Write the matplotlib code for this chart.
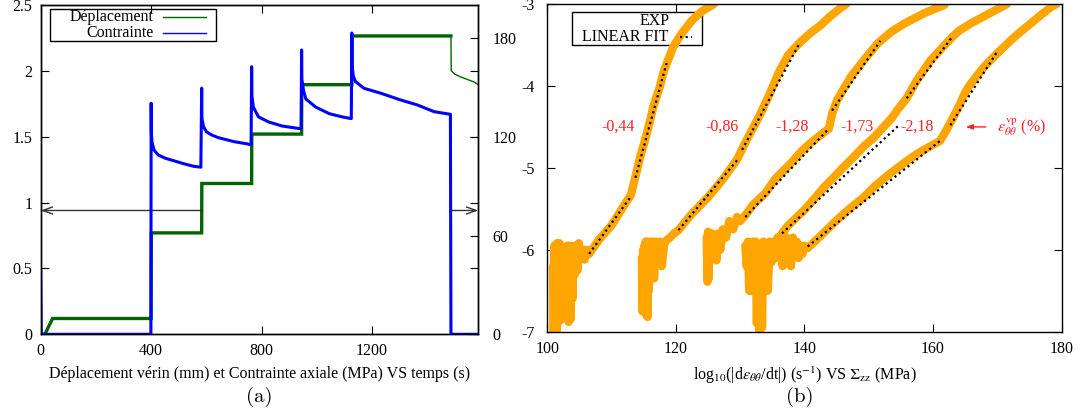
import matplotlib
matplotlib.use("Agg")
import matplotlib.pyplot as plt
from matplotlib.ticker import FuncFormatter
from matplotlib.lines import Line2D
from matplotlib.patches import Rectangle

plt.rcParams['font.family'] = ['Liberation Serif', 'DejaVu Serif']
plt.rcParams['mathtext.fontset'] = 'stix'
plt.rcParams['axes.unicode_minus'] = False
plt.rcParams['font.size'] = 11

# ---------------- panel (a) data ----------------
t_dep = [0, 15, 43, 400, 400.5, 583, 583.5, 764, 764.5, 945, 945.5, 1127, 1127.5, 1486]
dep = [0, 0, 0.12, 0.12, 0.77, 0.77, 1.145, 1.145, 1.52, 1.52, 1.895, 1.895, 2.265, 2.265]
# unloading part of the displacement (smooth, thin)
t_dep_unload = [1486, 1487, 1500, 1520, 1545, 1570, 1585]
dep_unload = [2.265, 2.0, 1.975, 1.955, 1.935, 1.915, 1.895]

t_sig = [0, 2, 399, 400, 400.8, 403, 410, 425, 450, 480, 520, 555, 580,
         583, 584, 590, 600, 620, 642, 700, 750, 762,
         764, 765, 770, 789, 825, 874, 935, 943,
         945, 946, 952, 960, 996, 1045, 1093, 1125,
         1127, 1128, 1132, 1140, 1171, 1232, 1304, 1364, 1425, 1484,
         1486, 1585]
sig = [38, 0, 0, 140.3, 122, 117, 112, 109, 107, 105.5, 103.5, 102, 101.5,
       149.5, 131, 126, 123, 121, 119.5, 117, 115.6, 115,
       162.5, 145, 138, 132, 129, 126.5, 125, 125,
       172.7, 155, 148, 143, 138, 134, 132, 131,
       183, 163, 157, 153.5, 149.4, 146.4, 142.3, 139.3, 135.2, 133.6,
       0, 0]

arrow_level = 0.94
arrow_left = (584, 0)
arrow_right = (1486, 1585)

a_xticks = [0, 400, 800, 1200]
a_yticks = [0, 0.5, 1, 1.5, 2, 2.5]
a_y2ticks = [0, 60, 120, 180]

# ---------------- panel (b) data ----------------
c1_x = [100.9, 101.0, 101.1, 101.2, 101.3, 101.4, 101.5, 101.6, 101.7, 101.8, 101.9, 102.0,
        102.1, 102.2, 102.3, 102.5, 102.7, 102.9, 103.1, 103.3, 103.45, 103.6, 103.75, 103.9,
        104.1, 104.3, 104.5, 104.7, 104.9, 105.2, 105.5, 105.8, 106.1,
        106.5, 108.0, 110.0, 112.0, 113.0, 113.7, 114.5,
        115.2, 116.0, 116.5, 117.5, 118.0, 118.6, 119.6, 120.9, 122.5, 124.0, 125.9]
c1_y = [-6.2, -7.0, -5.95, -6.95, -5.95, -7.0, -5.92, -6.9, -6.0, -6.3, -5.92, -6.85,
        -6.1, -6.85, -6.2, -6.5, -6.0, -6.3, -5.95, -6.88, -5.95, -6.85, -6.0, -6.6,
        -5.95, -6.3, -5.95, -6.25, -5.92, -6.1, -6.0, -6.12, -6.0,
        -6.05, -5.88, -5.7, -5.45, -5.33, -5.11, -4.85,
        -4.66, -4.42, -4.25, -4.01, -3.85, -3.72, -3.52, -3.36, -3.2, -3.09, -3.0]

c2_x = [114.7, 114.8, 114.9, 115.0, 115.1, 115.2, 115.3, 115.4, 115.5, 115.6, 115.7, 115.8,
        116.0, 116.2, 116.4, 116.6, 116.9, 117.2, 117.5, 117.8, 118.2, 118.6, 119.1, 119.7,
        120.4, 122.5, 125.1, 127.2, 129.5, 131.0, 132.9, 134.4, 136.1,
        137.5, 139.4, 141.0, 142.5, 144.0, 145.6, 146.5]
c2_y = [-6.1, -6.75, -6.0, -6.7, -5.95, -6.6, -5.9, -6.8, -5.9, -6.82, -5.95, -6.5,
        -5.9, -6.25, -5.9, -6.35, -5.9, -6.15, -5.9, -6.2, -5.92, -5.88, -5.85, -5.8,
        -5.76, -5.56, -5.35, -5.15, -4.9, -4.66, -4.38, -4.13, -3.82,
        -3.62, -3.46, -3.35, -3.26, -3.15, -3.05, -3.0]

c3_x = [124.8, 124.9, 125.0, 125.1, 125.2, 125.4, 125.6, 125.8, 126.0, 126.3, 126.6, 126.9,
        127.3, 127.8, 128.3, 128.9, 129.5, 130.0,
        130.8, 132.0, 133.9, 135.5, 137.8, 139.5, 140.9, 142.5, 143.8, 144.3, 145.1,
        147.2, 149.3, 151.4, 153.5, 155.5, 158.7, 161.8]
c3_y = [-5.85, -6.39, -5.78, -6.35, -5.8, -6.0, -5.8, -6.05, -5.85, -6.13, -5.8, -6.0,
        -5.75, -5.85, -5.65, -5.75, -5.6, -5.65,
        -5.58, -5.45, -5.31, -5.13, -4.95, -4.8, -4.7, -4.6, -4.52, -4.34, -4.17,
        -3.89, -3.68, -3.48, -3.34, -3.24, -3.11, -3.01]

c4_x = [130.8, 131.0, 131.2, 131.4, 131.6, 131.8, 132.0, 132.2, 132.4, 132.6, 132.8, 133.0,
        133.2, 133.4, 133.6, 133.8, 134.0, 134.3, 134.6, 134.9, 135.2, 135.5, 135.8, 136.1,
        136.5, 137.5, 139.9, 141.5, 143.0, 144.5, 146.1, 147.5, 149.2, 150.8,
        152.3, 153.5, 154.4, 155.9, 157.5, 159.6, 161.6, 162.9, 164.0, 165.8, 168.9, 171.5]
c4_y = [-5.95, -6.2, -5.9, -6.5, -5.95, -6.5, -5.9, -6.3, -5.9, -6.9, -5.95, -7.0,
        -5.95, -6.95, -5.9, -6.4, -5.92, -6.5, -5.9, -6.15, -5.9, -6.1, -5.85, -5.9,
        -5.8, -5.7, -5.52, -5.38, -5.24, -5.12, -4.99, -4.88, -4.74, -4.63,
        -4.5, -4.4, -4.3, -4.15, -3.93, -3.69, -3.52, -3.41, -3.33, -3.24, -3.11, -3.0]

c5_x = [136.4, 136.6, 136.8, 137.0, 137.2, 137.4, 137.6, 137.9, 138.2, 138.5, 138.8, 139.1,
        139.4, 139.7, 140.0, 140.5, 142.5, 145.0,
        147.0, 149.2, 151.0, 153.3, 155.5, 157.5, 159.5, 161.1, 162.0, 162.7, 163.5, 164.2,
        165.0, 165.8, 167.9, 169.9, 172.0, 173.3, 175.0, 177.0, 178.5, 179.2]
c5_y = [-5.9, -6.2, -5.88, -6.15, -5.85, -6.1, -5.9, -6.2, -5.85, -6.05, -5.9, -6.1,
        -5.95, -6.05, -5.95, -5.98, -5.83, -5.64,
        -5.5, -5.36, -5.22, -5.07, -4.94, -4.83, -4.74, -4.67, -4.55, -4.45, -4.33, -4.22,
        -4.08, -3.98, -3.77, -3.61, -3.45, -3.36, -3.25, -3.12, -3.03, -3.0]

curves_x = [c1_x, c2_x, c3_x, c4_x, c5_x]
curves_y = [c1_y, c2_y, c3_y, c4_y, c5_y]

# linear fits: x and y of each segment
fit_x = [[106.5, 113.0], [113.7, 118.7],
         [120.4, 129.6], [130.3, 139.3],
         [130.8, 143.8], [144.3, 151.8],
         [136.5, 154.7], [155.9, 162.9],
         [140.5, 161.1], [162.7, 170.0]]
fit_y = [[-6.05, -5.35], [-5.12, -3.68],
         [-5.76, -4.9], [-4.78, -3.47],
         [-5.6, -4.52], [-4.3, -3.45],
         [-5.8, -4.48], [-4.15, -3.41],
         [-5.96, -4.67], [-4.48, -3.58]]

strain_labels = ["-0,44", "-0,86", "-1,28", "-1,73", "-2,18"]
strain_label_x = [111.0, 127.2, 138.1, 148.2, 157.5]
label_y = -4.5

b_xticks = [100, 120, 140, 160, 180]
b_yticks = [-7, -6, -5, -4, -3]

# ---------------- figure ----------------
fig = plt.figure(figsize=(10.89, 4.16), dpi=100)
ax1 = fig.add_axes([0.0374, 0.1964, 0.4018, 0.7916])
ax2 = ax1.twinx()
ax2.set_position([0.0374, 0.1964, 0.4018, 0.7916])

green = '#006400'
blue = '#0000ff'
ax1.plot(t_dep, dep, color=green, lw=2.4, solid_joinstyle='miter')
ax1.plot(t_dep_unload, dep_unload, color=green, lw=1.0)
ax2.plot(t_sig, sig, color=blue, lw=2.2)

ax1.set_xlim(0, 1585)
ax1.set_ylim(0, 2.5)
ax2.set_ylim(0, 200)
ax1.set_xticks(a_xticks)
ax1.set_yticks(a_yticks)
ax2.set_yticks(a_y2ticks)
ax1.yaxis.set_major_formatter(FuncFormatter(lambda v, p: '%g' % v))
ax1.tick_params(direction='in', length=6, top=True, right=True, labelright=False,
                width=0.8, labelsize=11.5)
ax1.tick_params(axis='x', pad=6)
ax1.tick_params(axis='y', pad=6)
ax2.tick_params(direction='in', length=6, width=0.8, labelsize=11.5, pad=10)

arrow_style = dict(arrowstyle='->,head_length=0.7,head_width=0.25', color='#333333',
                   lw=1.0, shrinkA=0, shrinkB=0, mutation_scale=10)
ax1.annotate('', xy=(arrow_left[1], arrow_level), xytext=(arrow_left[0], arrow_level),
             arrowprops=arrow_style, annotation_clip=False)
ax1.annotate('', xy=(arrow_right[1], arrow_level), xytext=(arrow_right[0], arrow_level),
             arrowprops=arrow_style, annotation_clip=False)

# legend (a)
ax2.add_patch(Rectangle((0.0213, 0.890), 0.379, 0.097, transform=ax2.transAxes,
                        fill=False, edgecolor='black', lw=1.0, zorder=5))
ax2.text(0.257, 0.964, 'Déplacement', transform=ax2.transAxes, ha='right', va='center', fontsize=11.5)
ax2.text(0.257, 0.914, 'Contrainte', transform=ax2.transAxes, ha='right', va='center', fontsize=11.5)
ax2.add_line(Line2D([0.280, 0.378], [0.964, 0.964], transform=ax2.transAxes, color=green, lw=1))
ax2.add_line(Line2D([0.280, 0.378], [0.914, 0.914], transform=ax2.transAxes, color=blue, lw=1))

ax1.set_xlabel('Déplacement vérin (mm) et Contrainte axiale (MPa) VS temps (s)', fontsize=11.5, labelpad=5)
fig.text(259.5 / 1089, 1 - 397 / 416, '(a)', family='cmr10', fontsize=15, ha='center', va='center')

# ---------------- panel (b) ----------------
bx = fig.add_axes([0.5026, 0.2026, 0.4722, 0.7877])
orange = '#ffa500'
for xs, ys in zip(curves_x, curves_y):
    bx.plot(xs, ys, color=orange, lw=6, solid_joinstyle='round', solid_capstyle='round', zorder=2)
for xs, ys in zip(fit_x, fit_y):
    bx.plot(xs, ys, color='black', lw=1.6, linestyle=(0, (1, 1.5)), zorder=3)

for s, x in zip(strain_labels, strain_label_x):
    bx.text(x, label_y, s, color='#ff2020', fontsize=11.5, ha='center', va='center', zorder=4)
bx.annotate('', xy=(165.1, label_y), xytext=(168.2, label_y),
            arrowprops=dict(arrowstyle='-|>,head_length=0.4,head_width=0.15', color='#ff2020',
                            lw=1.0, shrinkA=0, shrinkB=0, mutation_scale=10))
bx.text(170.0, label_y, r'$\varepsilon_{\theta\theta}^{\mathrm{vp}}$ (%)', color='#ff2020',
        fontsize=11.5, ha='left', va='center')

bx.set_xlim(100, 180)
bx.set_ylim(-7, -3)
bx.set_xticks(b_xticks)
bx.set_yticks(b_yticks)
bx.tick_params(direction='in', length=6, width=0.8, top=True, right=True, labelsize=11.5)
bx.tick_params(axis='x', pad=7)
bx.tick_params(axis='y', pad=9)

# legend (b)
bx.add_patch(Rectangle((0.0475, 0.875), 0.2525, 0.100, transform=bx.transAxes,
                       fill=False, edgecolor='black', lw=1.0, zorder=1))
bx.text(0.2386, 0.949, 'EXP', transform=bx.transAxes, ha='right', va='center', fontsize=11.5)
bx.text(0.235, 0.900, 'LINEAR FIT', transform=bx.transAxes, ha='right', va='center', fontsize=11.5)
bx.add_line(Line2D([0.258, 0.281], [0.900, 0.900], transform=bx.transAxes, color='black',
                   lw=1.6, linestyle=(0, (1, 1.5))))

bx.set_xlabel(r'log$_{10}$(|d$\varepsilon_{\theta\theta}$/dt|) (s$^{-1}$) VS $\Sigma_{\mathrm{zz}}$ (MPa)',
              fontsize=11.5, labelpad=5)
fig.text(800 / 1089, 1 - 397 / 416, '(b)', family='cmr10', fontsize=15, ha='center', va='center')

for a in (ax1, ax2, bx):
    for sp in a.spines.values():
        sp.set_linewidth(1.0)

fig.savefig('out.png', dpi=100)
